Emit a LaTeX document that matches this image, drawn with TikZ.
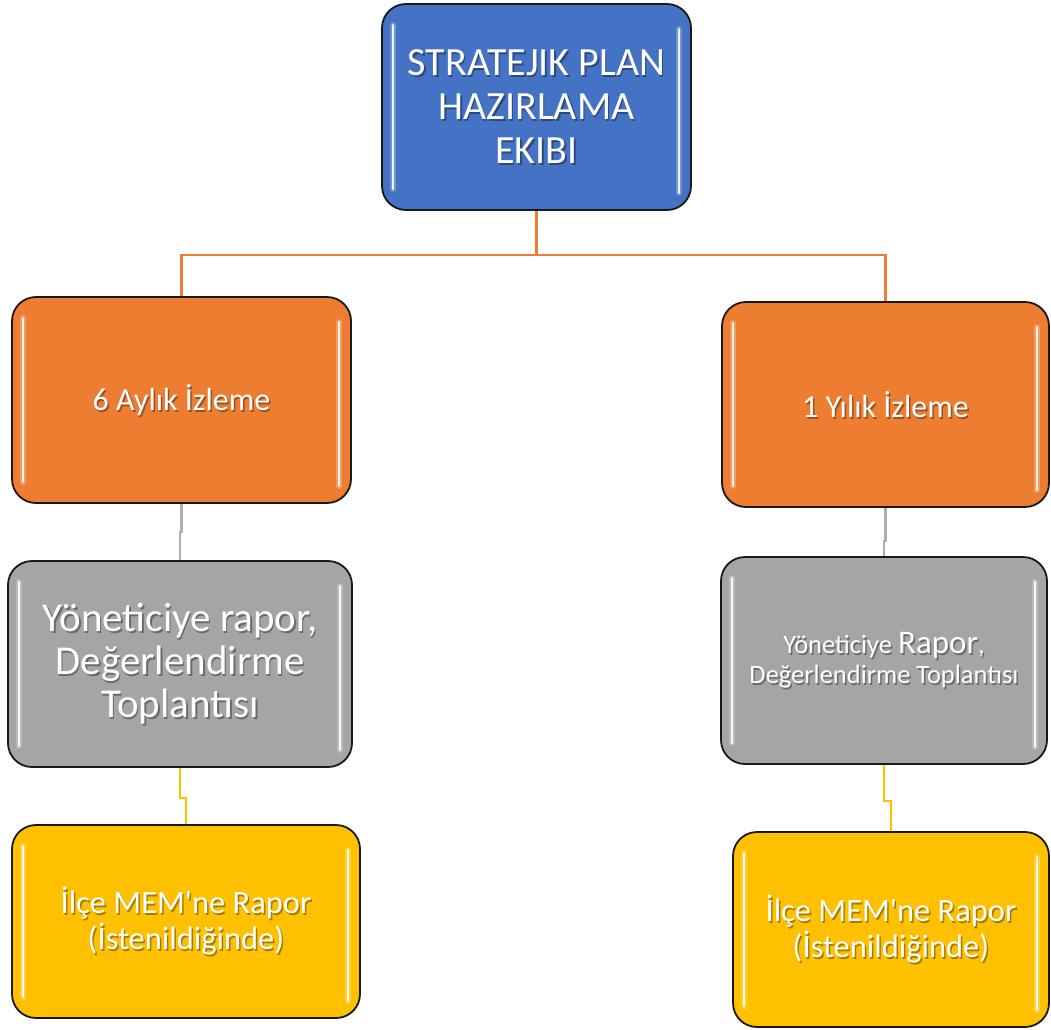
\documentclass[tikz,border=0pt]{standalone}
\usepackage{fontspec}
\setmainfont{Carlito}
\usetikzlibrary{calc}
\definecolor{cblue}{HTML}{4472C4}
\definecolor{corange}{HTML}{ED7D31}
\definecolor{cgray}{HTML}{A5A5A5}
\definecolor{cyellow}{HTML}{FFC000}
\definecolor{cglow}{HTML}{FFFFFF}
\tikzset{
  boxbase/.style={draw=black!90, line width=1.8pt, rounded corners=24pt, inner sep=0pt},
  txt/.style={text=white, align=center, inner sep=0pt},
  shtxt/.style={text=black, opacity=0.35, align=center, inner sep=0pt},
  hlbar/.style={draw=cglow, line width=2.6pt, line cap=round, opacity=0.9},
  hlglow/.style={draw=cglow, line width=6pt, line cap=round, opacity=0.25},
  oline/.style={draw=corange, line width=2.2pt},
  gline/.style={draw=cgray!90, line width=2.2pt},
  yline/.style={draw=cyellow, line width=2.2pt},
}
\newcommand\mybox[6]{% name, center, width, height, color, dummy
  \node[boxbase, fill=#5, minimum width=#3pt, minimum height=#4pt] (#1) at (#2) {};
  \draw[hlglow] ($(#1.north west)+(12,22)$) -- ($(#1.south west)+(12,-22)$);
  \draw[hlbar]  ($(#1.north west)+(12,22)$) -- ($(#1.south west)+(12,-22)$);
  \draw[hlglow] ($(#1.north east)+(-13,26)$) -- ($(#1.south east)+(-13,-18)$);
  \draw[hlbar]  ($(#1.north east)+(-13,26)$) -- ($(#1.south east)+(-13,-18)$);
}
\newcommand\mytext[3]{% name, font, text
  \node[shtxt, font=#2] (#1s) at ($(#1)+(1.5,1.8)$) {#3};
  \node[txt, font=#2] (#1t) at (#1) {#3};
}
\begin{document}
\begin{tikzpicture}[x=1pt,y=-1pt]
\useasboundingbox (0,0) rectangle (1051,1029);
\fill[white] (0,0) rectangle (1051,1029);

% connectors
\coordinate (jt) at (536.5,255);
\draw[oline] (536.5,210) -- (jt) -| (181.5,297);
\draw[oline] (jt) -| (885.5,302);

\mybox{top}{536.5,107}{309}{206}{cblue}{}
\mybox{l1}{181.5,400}{339}{206}{corange}{}
\mybox{r1}{885.5,404.5}{327}{205}{corange}{}
\mybox{l2}{180,664}{344}{206}{cgray}{}
\mybox{r2}{884,660.5}{326}{207}{cgray}{}
\mybox{l3}{186,921.5}{348}{193}{cyellow}{}
\mybox{r3}{891,929.5}{316}{195}{cyellow}{}

\draw[gline] (l1.south) -- ++(0,28) -| (l2.north);
\draw[gline] (r1.south) -- ++(0,33) -| (r2.north);
\draw[yline] (l2.south) -- ++(0,30) -| (l3.north);
\draw[yline] (r2.south) -- ++(0,36) -| (r3.north);

\mytext{top}{\fontsize{40}{44}\selectfont}{STRATEJIK PLAN\\HAZIRLAMA\\EKIBI}
\mytext{l1}{\fontsize{32}{36}\selectfont}{6 Aylık İzleme}
\mytext{r1}{\fontsize{32}{36}\selectfont}{1 Yılık İzleme}
\mytext{l2}{\fontsize{41}{43}\selectfont}{Yöneticiye rapor,\\Değerlendirme\\Toplantısı}
\mytext{r2}{\fontsize{26.5}{30}\selectfont}{Yöneticiye {\fontsize{33}{30}\selectfont Rapor},\\Değerlendirme Toplantısı}
\mytext{l3}{\fontsize{32.5}{36}\selectfont}{İlçe MEM\textquotesingle ne Rapor\\(İstenildiğinde)}
\mytext{r3}{\fontsize{32.5}{36}\selectfont}{İlçe MEM\textquotesingle ne Rapor\\(İstenildiğinde)}
\end{tikzpicture}
\end{document}
